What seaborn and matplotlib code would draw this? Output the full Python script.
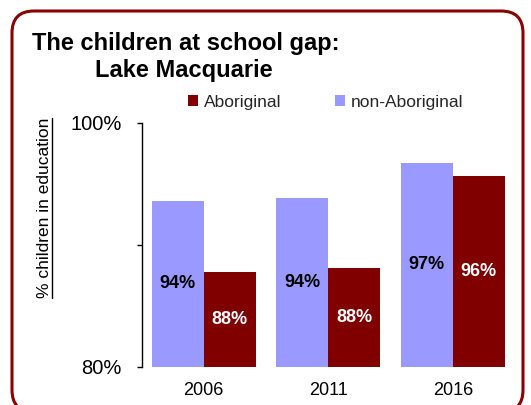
import matplotlib
matplotlib.use("Agg")
import matplotlib.pyplot as plt
from matplotlib.patches import Patch, FancyBboxPatch
from matplotlib.lines import Line2D
from matplotlib.transforms import IdentityTransform
import pandas as pd
import seaborn as sns

# Share of children in education, Lake Macquarie
years = ["2006", "2011", "2016"]
aboriginal = [87.8, 88.1, 95.6]
non_aboriginal = [93.6, 93.8, 96.7]
groups = ["non-Aboriginal", "Aboriginal"]
legend_order = ["Aboriginal", "non-Aboriginal"]
y_ticks = [80, 90, 100]
y_tick_labels = ["80%", "", "100%"]

colors = {"non-Aboriginal": "#9999FF", "Aboriginal": "#800000"}
label_colors = {"non-Aboriginal": "black", "Aboriginal": "white"}

df = pd.DataFrame({
    "year": years * 2,
    "group": [groups[0]] * len(years) + [groups[1]] * len(years),
    "pct": non_aboriginal + aboriginal,
})

sns.set_theme(style="white")
plt.rcParams["font.family"] = ["Liberation Sans", "DejaVu Sans"]

W, H = 531, 405
fig = plt.figure(figsize=(W / 100, H / 100), dpi=100)
fig.patch.set_facecolor("white")

ax_left, ax_right, ax_top, ax_bottom = 141.5, 515.0, 122.7, 366.7
ax = fig.add_axes([ax_left / W, 1 - ax_bottom / H,
                   (ax_right - ax_left) / W, (ax_bottom - ax_top) / H])

sns.barplot(data=df, x="year", y="pct", hue="group", order=years,
            hue_order=groups, palette=colors, width=0.839, gap=0,
            saturation=1, errorbar=None, legend=False, ax=ax,
            linewidth=0)

ax.set_ylim(80, 100)
ax.set_xlim(-0.5, 2.5)
ax.set_yticks(y_ticks)
ax.set_yticklabels(y_tick_labels)
ax.set_xlabel("")
ax.set_ylabel("")

for s in ["top", "right", "bottom"]:
    ax.spines[s].set_visible(False)
ax.spines["left"].set_color("black")
ax.spines["left"].set_linewidth(1.0)

ax.tick_params(axis="y", direction="out", length=3.6, width=1.0,
               color="black", pad=10.5, labelsize=14.5, left=True)
ax.tick_params(axis="x", length=0, pad=11, labelsize=13)
for lbl in ax.get_xticklabels() + ax.get_yticklabels():
    lbl.set_color("black")

# value labels centred in the visible part of each bar
y0 = ax.get_ylim()[0]
for container, grp in zip(ax.containers, groups):
    for patch, val in zip(container.patches, container.datavalues):
        ax.text(patch.get_x() + patch.get_width() / 2, (y0 + val) / 2,
                f"{val:.0f}%", ha="center", va="center", fontsize=13,
                fontweight="bold", color=label_colors[grp])

# title
fig.text(31.7 / W, 1 - 50 / H, "The children at school gap:", fontsize=17,
         fontweight="bold", ha="left", va="baseline", color="black")
fig.text(95 / W, 1 - 77 / H, "Lake Macquarie", fontsize=17,
         fontweight="bold", ha="left", va="baseline", color="black")

# legend
handles = [Patch(facecolor=colors[g], edgecolor="none", label=g)
           for g in legend_order]
fig.legend(handles=handles, ncol=2, loc="upper left",
           bbox_to_anchor=(188 / W, 1 - 95 / H), frameon=False,
           fontsize=12.5, handlelength=0.6, handleheight=0.6,
           handletextpad=0.3, columnspacing=3.1, borderpad=0,
           borderaxespad=0)

# underlined y-axis title
ylab = fig.text(45 / W, 1 - 208 / H, "% children in education",
                rotation=90, ha="center", va="center", fontsize=12.5,
                color="black")
fig.canvas.draw()
bb = ylab.get_window_extent(fig.canvas.get_renderer())
fig.add_artist(Line2D([bb.x1 - 0.5, bb.x1 - 0.5], [bb.y0, bb.y1],
                      transform=IdentityTransform(), color="black",
                      linewidth=1.0))

# rounded frame around the panel
frame = FancyBboxPatch((12, H - 412), 511, 401,
                       boxstyle="round,pad=0,rounding_size=22",
                       transform=IdentityTransform(), facecolor="none",
                       edgecolor="#8B0000", linewidth=2.2, clip_on=False)
fig.add_artist(frame)

fig.savefig("out.png", dpi=100, facecolor="white")
